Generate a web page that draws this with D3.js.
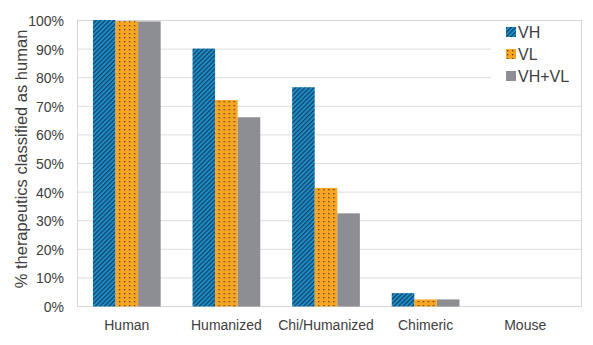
<!DOCTYPE html>
<html><head><meta charset="utf-8">
<script src="https://cdn.jsdelivr.net/npm/d3@7"></script>
<style>body{margin:0;background:#fff}svg{display:block;font-family:"Liberation Sans",Arial,sans-serif}</style>
</head><body><svg id="c" width="593" height="345"></svg>
<script>
const categories = ["Human","Humanized","Chi/Humanized","Chimeric","Mouse"];
const seriesNames = ["VH","VL","VH+VL"];
const vh = [100, 90, 76.5, 4.5, 0];
const vl = [99.6, 72, 41.3, 2.3, 0];
const vhvl = [99.5, 66, 32.4, 2.3, 0];
const yTicks = [0,10,20,30,40,50,60,70,80,90,100];

const svg = d3.select("#c");
const L = 77, R = 581, T = 20, B = 306;
const x0 = d3.scaleBand().domain(categories).range([L, L + 5*99.6]).paddingInner(0.32).paddingOuter(0.16);
const x1 = d3.scaleBand().domain(seriesNames).range([0, x0.bandwidth()]);
const y = d3.scaleLinear().domain([0,100]).range([B, T]);

const defs = svg.append("defs");
const ps = defs.append("pattern").attr("id","stripes").attr("patternUnits","userSpaceOnUse")
  .attr("width",3.2).attr("height",3.2).attr("patternTransform","rotate(45)");
ps.append("rect").attr("width",3.2).attr("height",3.2).attr("fill","#1a90cc");
ps.append("rect").attr("width",1.2).attr("height",3.2).attr("fill","#173c5c");
const pd = defs.append("pattern").attr("id","dots").attr("patternUnits","userSpaceOnUse")
  .attr("width",5).attr("height",4);
pd.append("rect").attr("width",5).attr("height",4).attr("fill","#f6a624");
pd.append("rect").attr("x",1).attr("y",1).attr("width",1.3).attr("height",1.3).attr("fill","#5a3d1a");
const fills = {"VH":"url(#stripes)","VL":"url(#dots)","VH+VL":"#8d8e94"};

// grid
svg.append("g").selectAll("line").data(yTicks).join("line")
  .attr("x1",L).attr("x2",R).attr("y1",d=>y(d)+0.5).attr("y2",d=>y(d)+0.5)
  .attr("stroke","#dcdcdc").attr("stroke-width",1);
svg.append("rect").attr("x",L+0.5).attr("y",T+0.5).attr("width",R-L).attr("height",B-T)
  .attr("fill","none").attr("stroke","#d6d6d6");

// y axis labels
const yAxis = d3.axisLeft(y).tickValues(yTicks).tickFormat(d=>d+"%").tickSize(0).tickPadding(13);
const ga = svg.append("g").attr("transform",`translate(${L},1)`).call(yAxis);
ga.select(".domain").remove();
ga.selectAll("text").attr("font-size",14).attr("fill","#404040").attr("font-family","Liberation Sans, Arial, sans-serif");

// x axis labels
const xAxis = d3.axisBottom(x0).tickSize(0).tickPadding(14);
const gx = svg.append("g").attr("transform",`translate(0,${B})`).call(xAxis);
gx.select(".domain").remove();
gx.selectAll("text").attr("font-size",14).attr("fill","#404040").attr("font-family","Liberation Sans, Arial, sans-serif");

// bars
const data = categories.map((c,i)=>({c, vals:[vh[i],vl[i],vhvl[i]]}));
const g = svg.append("g").selectAll("g").data(data).join("g").attr("transform",d=>`translate(${x0(d.c)},0)`);
g.selectAll("rect").data(d=>d.vals.map((v,j)=>({s:seriesNames[j],v})).filter(d=>d.v>0)).join("rect")
  .attr("x",d=>x1(d.s)).attr("width",x1.bandwidth())
  .attr("y",d=>y(d.v)).attr("height",d=>B-y(d.v)+0.5)
  .attr("fill",d=>fills[d.s]);

// legend
const lg = svg.append("g");
lg.append("rect").attr("x",491).attr("y",T+1).attr("width",R-491).attr("height",84).attr("fill","#fff");
const li = lg.selectAll("g").data(seriesNames).join("g").attr("transform",(d,i)=>`translate(506,${27+i*22})`);
li.append("rect").attr("width",10).attr("height",10).attr("fill",d=>fills[d]);
li.append("text").attr("x",12).attr("y",10.5).text(d=>d).attr("font-size",16).attr("fill","#404040");

// y title
svg.append("text").attr("transform",`translate(27,159) rotate(-90)`).attr("text-anchor","middle")
  .attr("font-size",16.5).attr("fill","#404040").text("% therapeutics classified as human");
</script></body></html>
